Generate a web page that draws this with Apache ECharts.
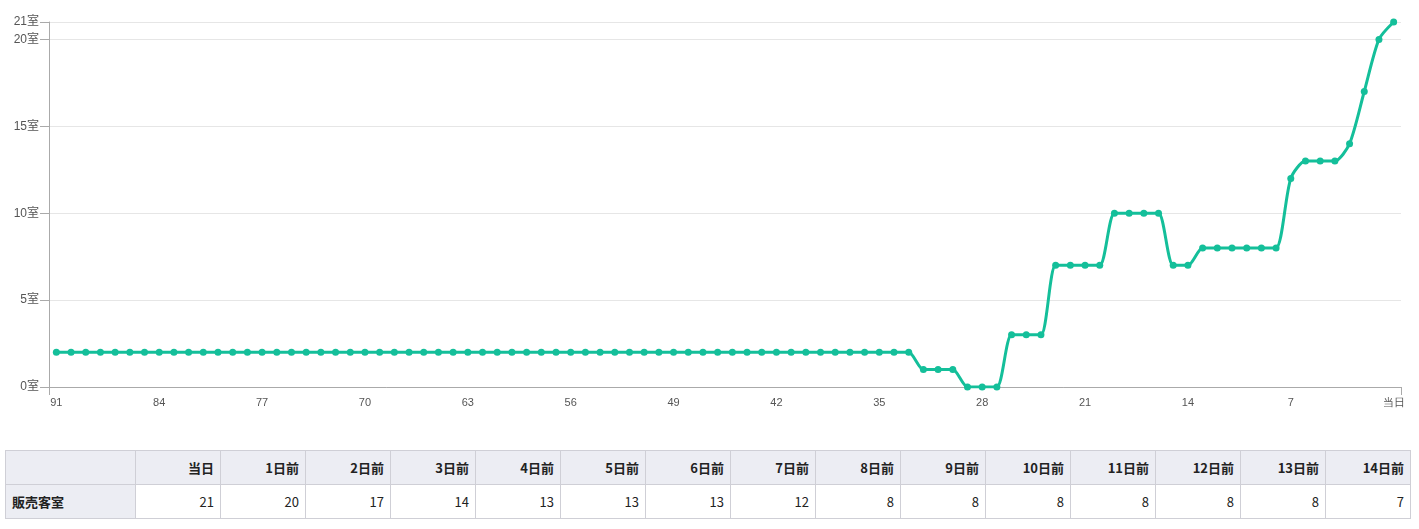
<!DOCTYPE html>
<html>
<head>
<meta charset="utf-8">
<script src="https://cdn.jsdelivr.net/npm/echarts@6/dist/echarts.min.js"></script>
<style>
html,body{margin:0;padding:0;background:#fff;}
#chart{position:absolute;left:0;top:0;width:1419px;height:420px;}
#tbl{position:absolute;left:5px;top:450px;border-collapse:collapse;font-family:"Noto Sans CJK JP","Noto Sans",sans-serif;font-size:13px;color:#222;}
#tbl td,#tbl th{border:1px solid #cfcfd6;height:34px;padding:0 6px;text-align:right;box-sizing:border-box;}
#tbl th{background:#ecedf3;font-weight:bold;width:85px;}
#tbl th.corner{width:130px;}
#tbl td.rowh{background:#ecedf3;font-weight:bold;text-align:left;}
#tbl td{background:#fff;}
</style>
</head>
<body>
<div id="chart"></div>
<table id="tbl"></table>
<script>
// days before (91 ... 1, then 当日)
const dayLabels = [];
for (let d = 91; d >= 1; d--) dayLabels.push(String(d));
dayLabels.push('当日');

// sold rooms per day, from 91 days before to 当日
const flat2 = Array(59).fill(2); // days 91..33
const soldRooms = flat2.concat([
  1, 1, 1,        // 32,31,30
  0, 0, 0,        // 29,28,27
  3, 3, 3,        // 26,25,24
  7, 7, 7, 7,     // 23..20
  10, 10, 10, 10, // 19..16
  7, 7,           // 15,14
  8, 8, 8, 8, 8, 8, // 13..8
  12, 13, 13, 13, 14, 17, 20, 21 // 7..0
]);

const tableHeaders = ['当日','1日前','2日前','3日前','4日前','5日前','6日前','7日前','8日前','9日前','10日前','11日前','12日前','13日前','14日前'];
const tableValues = [21,20,17,14,13,13,13,12,8,8,8,8,8,8,7];
const rowLabel = '販売客室';

const chart = echarts.init(document.getElementById('chart'));
chart.setOption({
  animation: false,
  grid: {left: 49, right: 18, top: 22, bottom: 33, containLabel: false},
  xAxis: {
    type: 'category',
    data: dayLabels,
    boundaryGap: true,
    axisLine: {lineStyle: {color: '#aaaaaa'}},
    axisTick: {show: true, interval: function(i){return i===0;}, length: 8, lineStyle: {color: '#aaaaaa'}},
    axisLabel: {interval: 6, color: '#555', fontSize: 11, fontFamily: 'Liberation Sans, Arial, sans-serif', margin: 10}
  },
  yAxis: {
    type: 'value',
    min: 0, max: 21, interval: 5,
    axisLine: {show: true, lineStyle: {color: '#aaaaaa'}},
    axisTick: {show: true, length: 9, lineStyle: {color: '#aaaaaa'}},
    splitLine: {lineStyle: {color: '#e6e6e6'}},
    axisLabel: {formatter: '{value}室', color: '#555', fontSize: 12, fontFamily: 'Liberation Sans, Noto Sans CJK JP, sans-serif', margin: 10}
  },
  series: [{
    type: 'line',
    data: soldRooms,
    smooth: 0.25,
    symbol: 'circle',
    symbolSize: 7,
    itemStyle: {color: '#14bf9a'},
    lineStyle: {color: '#14bf9a', width: 3}
  }]
});

const tbl = document.getElementById('tbl');
let h = '<tr><th class="corner"></th>' + tableHeaders.map(t => '<th>' + t + '</th>').join('') + '</tr>';
h += '<tr><td class="rowh">' + rowLabel + '</td>' + tableValues.map(v => '<td>' + v + '</td>').join('') + '</tr>';
tbl.innerHTML = h;
</script>
</body>
</html>
